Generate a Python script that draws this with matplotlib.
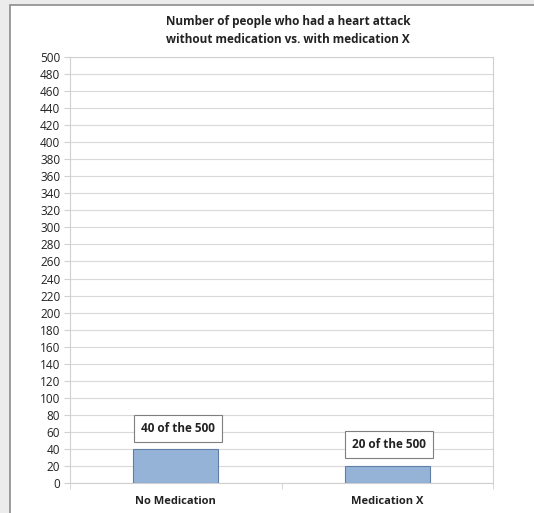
import matplotlib.pyplot as plt
from matplotlib.patches import Rectangle
import numpy as np

categories = ['No Medication', 'Medication X']
values = [40, 20]
box_labels = ['40 of the 500', '20 of the 500']
box_y = [64, 45]
yticks = list(range(0, 501, 20))

plt.rcParams['font.family'] = ['Open Sans', 'DejaVu Sans']

fig = plt.figure(figsize=(5.34, 5.13), dpi=100)
fig.patch.set_facecolor('#ececec')

# white panel with dark border on top / left
W, H = 534, 513
fig.patches.append(Rectangle((10 / W, -0.02), 1, (H - 5) / H + 0.02, transform=fig.transFigure,
                             facecolor='white', edgecolor='#8c8c8c', linewidth=1.2, zorder=-10))

ax = fig.add_axes([70 / W, 1 - 483 / H, (493 - 70) / W, (483 - 57) / H])
ax.set_zorder(1)
x = np.arange(len(categories))
ax.bar(x, values, width=0.4, color='#95b3d7', edgecolor='#5f7fa8', linewidth=0.8, zorder=3)

ax.set_xlim(-0.5, 1.5)
ax.set_ylim(0, 500)
ax.set_yticks(yticks)
ax.set_yticklabels([str(v) for v in yticks], fontsize=8.5, color='#222222')
ax.set_xticks(x)
ax.set_xticklabels(categories, fontsize=8, fontweight='bold', color='#222222')
ax.set_xticks([-0.5, 0.5, 1.5], minor=True)
ax.tick_params(axis='x', which='major', length=0, pad=9)
ax.tick_params(axis='x', which='minor', length=4, color='#d0d0d0')
ax.tick_params(axis='y', length=4, color='#d0d0d0', pad=3)
ax.grid(axis='y', color='#d9d9d9', linewidth=0.8, zorder=0)
for s in ax.spines.values():
    s.set_color('#d0d0d0')
    s.set_linewidth(0.8)

for xi, lab, yb in zip(x, box_labels, box_y):
    ax.text(xi + 0.01, yb, lab, ha='center', va='center', fontsize=8.5, fontweight='bold',
            color='#222222', zorder=4,
            bbox=dict(boxstyle='square,pad=0.6', facecolor='white', edgecolor='#7f7f7f', linewidth=0.8))

fig.text(288 / W, 1 - 31 / H, 'Number of people who had a heart attack\nwithout medication vs. with medication X',
         ha='center', va='center', fontsize=8.5, fontweight='bold', color='#222222', linespacing=1.5)

fig.savefig('out.png', dpi=100, facecolor=fig.get_facecolor())
